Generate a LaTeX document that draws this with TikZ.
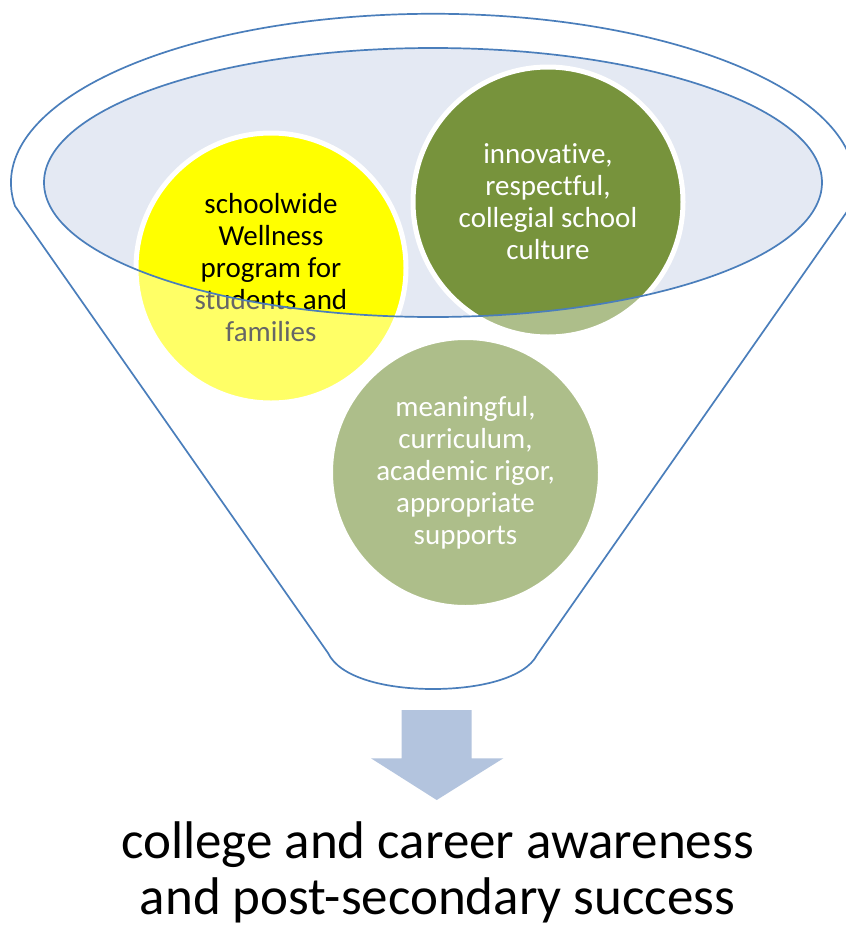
\documentclass[tikz,border=0pt]{standalone}
\usepackage{fontspec}
\setmainfont{Carlito}[Ligatures=NoCommon]
\definecolor{funnelline}{HTML}{4A7EBB}
\definecolor{bowlfill}{HTML}{E4E9F3}
\definecolor{wellyellow}{HTML}{FFFF00}
\definecolor{olive}{HTML}{77933C}
\definecolor{arrowblue}{HTML}{B3C4DE}
% outline of the funnel: top rim arc, two sides, rounded spout
\newcommand\funnelpath{(15,206) arc[start angle=187.9, end angle=-7.9, x radius=422pt, y radius=169pt]
  -- (537,655) .. controls (525,678) and (480,689) .. (433,689)
  .. controls (386,689) and (340,678) .. (328,653) -- cycle}
\begin{document}
\begin{tikzpicture}[x=1pt,y=-1pt,
  rimline/.style={draw=funnelline, line width=1.7pt},
  bubble/.style={circle, draw=white, line width=5pt, minimum size=270pt, inner sep=0pt,
    align=center, font=\fontsize{29}{32}\selectfont},
  outcome/.style={align=center, font=\fontsize{53}{56}\selectfont}]
\useasboundingbox (0,0) rectangle (846,927);
\fill[white] (0,0) rectangle (846,927);

% inside of the rim
\fill[bowlfill] (433,182.5) ellipse[x radius=389pt, y radius=134.5pt];

% the three ingredients
\node[bubble, fill=wellyellow, text=black] (wellness) at (271,268)
  {schoolwide\\Wellness\\program for\\students and\\families};
\node[bubble, fill=olive, text=white] (culture) at (548,202)
  {innovative,\\respectful,\\collegial school\\culture};
\node[bubble, fill=olive, text=white] (curriculum) at (465.5,472.5)
  {meaningful,\\curriculum,\\academic rigor,\\appropriate\\supports};

% translucent funnel body below the rim
\fill[white, fill opacity=0.4, even odd rule] \funnelpath
  (433,182.5) ellipse[x radius=389pt, y radius=134.5pt];

% outlines
\draw[rimline] (433,182.5) ellipse[x radius=389pt, y radius=134.5pt];
\draw[rimline, line join=round] \funnelpath;

% output arrow and result
\fill[arrowblue] (401.7,710) -- (471.7,710) -- (471.7,758.3) -- (503.3,758.3)
  -- (436.7,800) -- (371,758.3) -- (401.7,758.3) -- cycle;
\node[outcome] (result) at (437.5,872)
  {college and career awareness\\and post-secondary success};
\end{tikzpicture}
\end{document}
